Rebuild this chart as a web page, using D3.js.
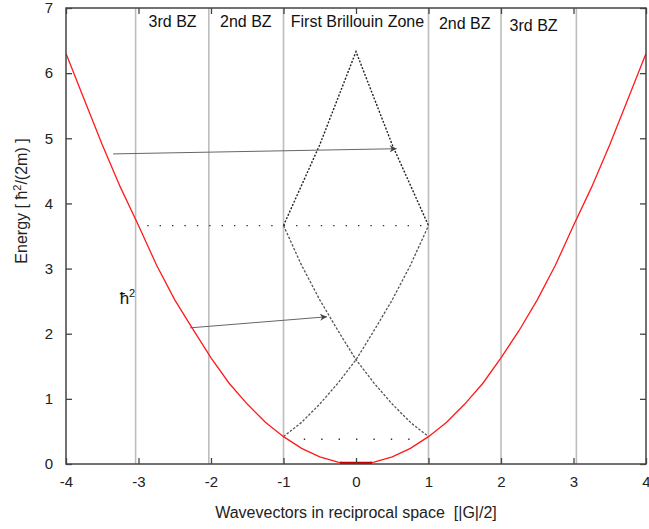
<!DOCTYPE html>
<html>
<head>
<meta charset="utf-8">
<script src="https://cdn.jsdelivr.net/npm/d3@7"></script>
<style>
  html, body { margin: 0; padding: 0; background: #fff; }
  svg { display: block; font-family: "Liberation Sans", Arial, sans-serif; }
</style>
</head>
<body>
<svg id="chart" width="649" height="529"></svg>
<script>
// Free-electron dispersion, extended zone scheme (k in units of |G|/2, E in ħ²/(2m))
const freeK = [-4, -3.75, -3.5, -3.25, -3, -2.75, -2.5, -2.25, -2, -1.75, -1.5, -1.25, -1, -0.75, -0.5, -0.25, 0,
               0.25, 0.5, 0.75, 1, 1.25, 1.5, 1.75, 2, 2.25, 2.5, 2.75, 3, 3.25, 3.5, 3.75, 4];
const freeE = [6.30, 5.60, 4.90, 4.25, 3.66, 3.05, 2.52, 2.07, 1.63, 1.24, 0.92, 0.64, 0.42, 0.24, 0.11, 0.03, 0.0,
               0.03, 0.11, 0.24, 0.42, 0.64, 0.92, 1.24, 1.63, 2.05, 2.52, 3.05, 3.66, 4.25, 4.90, 5.60, 6.30];

// Bands folded back into the first Brillouin zone
const foldK = [-1, -0.75, -0.5, -0.25, 0, 0.25, 0.5, 0.75, 1];
const secondBandUp = [0.42, 0.64, 0.92, 1.24, 1.60, 2.05, 2.52, 3.05, 3.66];
const secondBandDown = [3.66, 3.05, 2.52, 2.05, 1.60, 1.24, 0.92, 0.64, 0.42];
const thirdK = [-1, -0.5, 0, 0.5, 1];
const thirdBand = [3.66, 4.90, 6.33, 4.90, 3.66];

// Zone-boundary energy levels (dotted guides)
const levelUpper = { k0: -2.88, k1: 1, e: 3.66 };
const levelLower = { k0: -0.72, k1: 0.9, e: 0.38 };

// Zone boundaries and labels
const boundaries = [-3.04, -2.03, -1, 1, 2, 3.04];
const zoneNames = ["3rd BZ", "2nd BZ", "First Brillouin Zone", "2nd BZ", "3rd BZ"];
const zoneCenters = [-2.53, -1.52, 0.02, 1.5, 2.45];
const zoneLabelE = [6.71, 6.71, 6.71, 6.68, 6.64];

// Arrows mapping extended-zone states to the reduced zone
const arrows = [
  { k0: -3.35, e0: 4.76, k1: 0.56, e1: 4.84 },
  { k0: -2.29, e0: 2.09, k1: -0.40, e1: 2.26 }
];

const xTicks = [-4, -3, -2, -1, 0, 1, 2, 3, 4];
const yTicks = [0, 1, 2, 3, 4, 5, 6, 7];

const svg = d3.select("#chart");
const pLeft = 66, pRight = 646, pTop = 8, pBottom = 464;

const x = d3.scaleLinear().domain([-4, 4]).range([pLeft, pRight]);
const y = d3.scaleLinear().domain([0, 7]).range([pBottom, pTop]);

const defs = svg.append("defs");
defs.append("marker")
  .attr("id", "head")
  .attr("viewBox", "0 0 10 10")
  .attr("refX", 10).attr("refY", 5)
  .attr("markerWidth", 11).attr("markerHeight", 7)
  .attr("markerUnits", "userSpaceOnUse")
  .attr("orient", "auto")
  .append("path").attr("d", "M0,0 L10,5 L0,10 L3,5 Z").attr("fill", "#444");

defs.append("clipPath").attr("id", "plot")
  .append("rect").attr("x", pLeft).attr("y", pTop).attr("width", pRight - pLeft).attr("height", pBottom - pTop);

// zone boundaries
svg.append("g").selectAll("line").data(boundaries).join("line")
  .attr("x1", d => x(d)).attr("x2", d => x(d))
  .attr("y1", pTop).attr("y2", pBottom)
  .attr("stroke", "#bdbdbd").attr("stroke-width", 1.6);

// zone labels
svg.append("g").selectAll("text").data(zoneNames).join("text")
  .attr("x", (d, i) => x(zoneCenters[i]))
  .attr("y", (d, i) => y(zoneLabelE[i]))
  .attr("text-anchor", "middle")
  .attr("font-size", 16).attr("fill", "#111")
  .text(d => d);

const line = d3.line().x(d => x(d[0])).y(d => y(d[1]));
const zip = (ks, es) => ks.map((k, i) => [k, es[i]]);

const plot = svg.append("g").attr("clip-path", "url(#plot)");

// horizontal dotted levels
[levelUpper, levelLower].forEach((lv, i) => {
  plot.append("line")
    .attr("x1", x(lv.k0)).attr("x2", x(lv.k1))
    .attr("y1", y(lv.e)).attr("y2", y(lv.e))
    .attr("stroke", "#333").attr("stroke-width", 1.4)
    .attr("stroke-dasharray", i === 0 ? "1.4,11" : "1.4,16");
});

// folded second bands
plot.append("path").datum(zip(foldK, secondBandUp)).attr("d", line)
  .attr("fill", "none").attr("stroke", "#555").attr("stroke-width", 1.3).attr("stroke-dasharray", "2.5,1.6");
plot.append("path").datum(zip(foldK, secondBandDown)).attr("d", line)
  .attr("fill", "none").attr("stroke", "#555").attr("stroke-width", 1.3).attr("stroke-dasharray", "2.5,1.6");

// folded third band
plot.append("path").datum(zip(thirdK, thirdBand)).attr("d", line)
  .attr("fill", "none").attr("stroke", "#222").attr("stroke-width", 1.4).attr("stroke-dasharray", "2,1.6");

// free-electron parabola
plot.append("path").datum(zip(freeK, freeE)).attr("d", line)
  .attr("fill", "none").attr("stroke", "#ff1a1a").attr("stroke-width", 1.3);
plot.append("line")
  .attr("x1", x(-0.22)).attr("x2", x(0.22)).attr("y1", y(0) - 1).attr("y2", y(0) - 1)
  .attr("stroke", "#c00000").attr("stroke-width", 2.5);

// arrows
svg.append("g").selectAll("line").data(arrows).join("line")
  .attr("x1", d => x(d.k0)).attr("y1", d => y(d.e0))
  .attr("x2", d => x(d.k1)).attr("y2", d => y(d.e1))
  .attr("stroke", "#666").attr("stroke-width", 1)
  .attr("marker-end", "url(#head)");

// ħ² annotation
svg.append("text")
  .attr("x", x(-3.26)).attr("y", y(2.46))
  .attr("font-size", 17).attr("fill", "#111")
  .html('ħ<tspan dy="-7" font-size="11">2</tspan>');

// axes (ticks pointing inward on all sides)
const axisColor = "#444";
const plain = d => String(d);
function styleAxis(g) {
  g.attr("font-size", 15).attr("font-family", "Liberation Sans, Arial, sans-serif");
  g.select(".domain").remove();
  g.selectAll(".tick line").attr("stroke", axisColor).attr("stroke-width", 1.3);
  g.selectAll("text").attr("fill", "#222");
}
svg.append("g").attr("transform", `translate(0,${pBottom})`)
  .call(d3.axisBottom(x).tickValues(xTicks).tickSizeInner(-6).tickSizeOuter(0).tickPadding(12).tickFormat(plain))
  .call(styleAxis);
svg.append("g").attr("transform", `translate(0,${pTop})`)
  .call(d3.axisTop(x).tickValues(xTicks).tickSizeInner(-6).tickSizeOuter(0).tickFormat(""))
  .call(styleAxis);
svg.append("g").attr("transform", `translate(${pLeft},0)`)
  .call(d3.axisLeft(y).tickValues(yTicks).tickSizeInner(-6).tickSizeOuter(0).tickPadding(13).tickFormat(plain))
  .call(styleAxis);
svg.append("g").attr("transform", `translate(${pRight},0)`)
  .call(d3.axisRight(y).tickValues(yTicks).tickSizeInner(-6).tickSizeOuter(0).tickFormat(""))
  .call(styleAxis);

// frame
svg.append("rect")
  .attr("x", pLeft).attr("y", pTop).attr("width", pRight - pLeft).attr("height", pBottom - pTop)
  .attr("fill", "none").attr("stroke", axisColor).attr("stroke-width", 1.5);

// axis titles
svg.append("text")
  .attr("x", (pLeft + pRight) / 2).attr("y", 518)
  .attr("text-anchor", "middle").attr("font-size", 16).attr("fill", "#222")
  .attr("xml:space", "preserve").style("white-space", "pre")
  .text("Wavevectors in reciprocal space  [|G|/2]");
svg.append("text")
  .attr("transform", "translate(27,201) rotate(-90)")
  .attr("text-anchor", "middle").attr("font-size", 16).attr("fill", "#222")
  .html('Energy [ ħ<tspan dy="-6" font-size="11">2</tspan><tspan dy="6">/(2m) ]</tspan>');
</script>
</body>
</html>
